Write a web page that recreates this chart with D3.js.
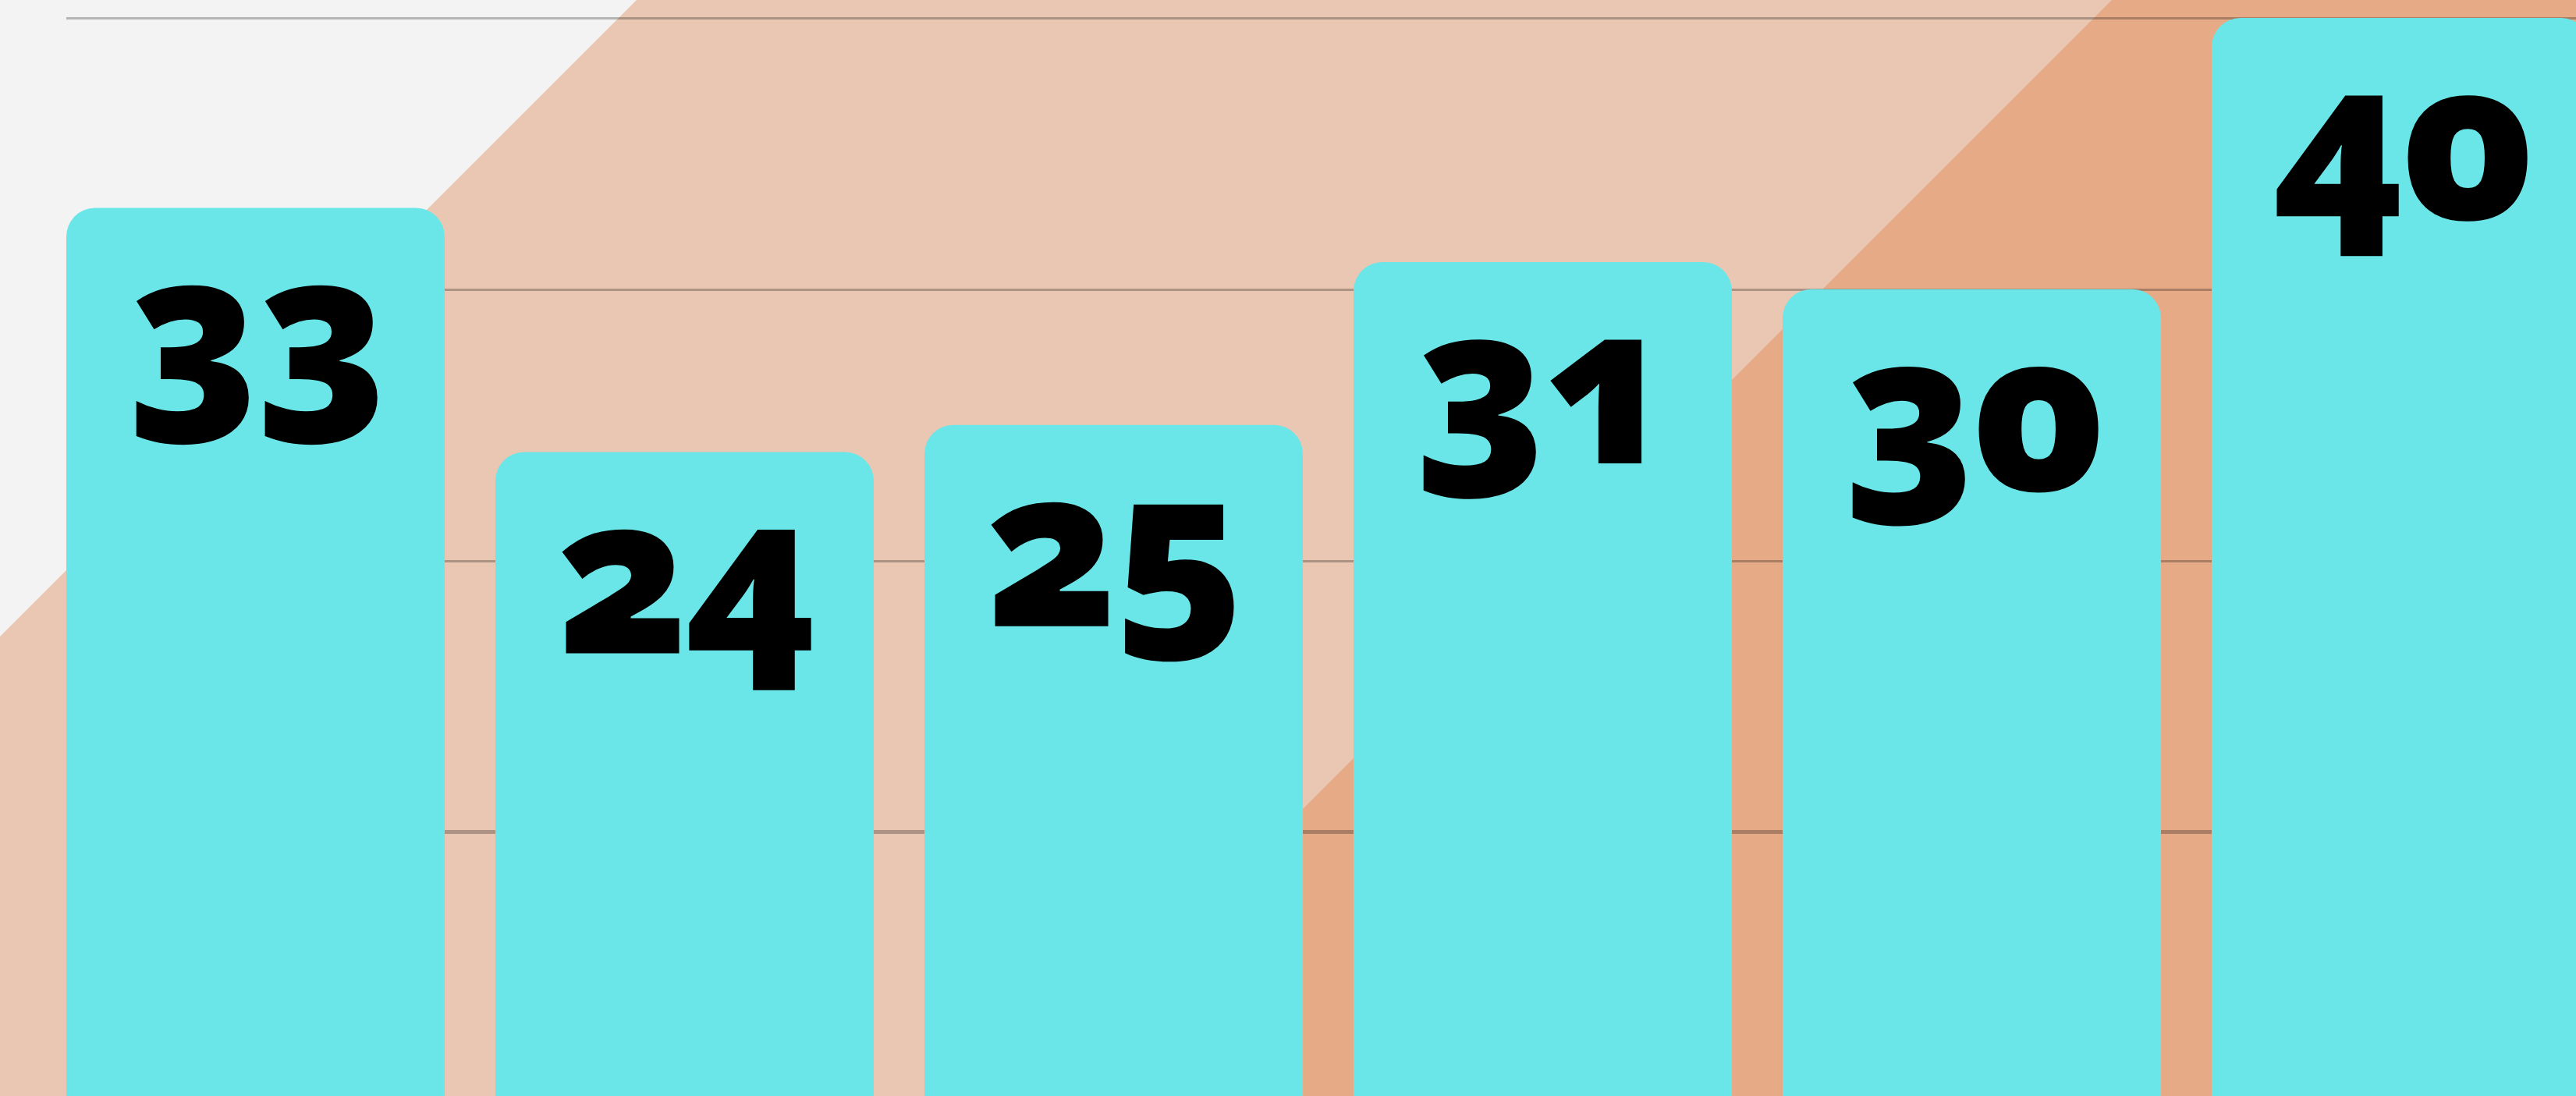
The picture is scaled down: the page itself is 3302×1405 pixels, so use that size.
<!DOCTYPE html>
<html>
<head>
<meta charset="utf-8">
<script src="https://cdn.jsdelivr.net/npm/d3@7"></script>
<style>
  html, body { margin: 0; padding: 0; overflow: hidden; background: #f3f3f3; }
  svg { display: block; }
  .value-label {
    font-family: "Noto Sans", "Open Sans", sans-serif;
    font-weight: 900;
    font-variant-numeric: oldstyle-nums;
    font-feature-settings: "onum" 1;
    letter-spacing: -6px;
  }
</style>
</head>
<body>
<svg id="chart"></svg>
<script>
// ---- data ----
const categories = ["c1", "c2", "c3", "c4", "c5", "c6"];
const values = [33, 24, 25, 31, 30, 40];
const gridTicks = [10, 20, 30, 40];

// ---- layout & style ----
const W = 3302, H = 1405;
const plotLeft = 85;
const step = 550, barGap = 65;
const yZeroPx = 1414, yTopPx = 23;      // pixel rows of 0 and 40
const cornerR = 37;
const labelSize = 282, labelDrop = 258;
const colors = {
  paper: "#f3f3f3",
  bandLight: "#eac7b3",
  bandDark: "#e6aa87",
  bar: "#6be6e8",
  grid: "rgba(0,0,0,0.26)",
  label: "#000000"
};
// diagonal background bands (x + y = const)
const bandEdge1 = 816, bandEdge2 = 2707;

const svg = d3.select("#chart").attr("width", W).attr("height", H);

// background: dark band, lighter band, then pale corner
svg.append("rect").attr("width", W).attr("height", H).attr("fill", colors.bandDark);
svg.append("polygon")
  .attr("points", [[0, 0], [bandEdge2, 0], [bandEdge2 - H, H], [0, H]].join(" "))
  .attr("fill", colors.bandLight);
svg.append("polygon")
  .attr("points", [[0, 0], [bandEdge1, 0], [0, bandEdge1]].join(" "))
  .attr("fill", colors.paper);

// scales
const x = d3.scaleBand()
  .domain(categories)
  .range([plotLeft, plotLeft + categories.length * step - barGap])
  .paddingInner(barGap / step)
  .paddingOuter(0);

const y = d3.scaleLinear().domain([0, 40]).range([yZeroPx, yTopPx]);

// horizontal gridlines
const grid = svg.append("g")
  .attr("transform", `translate(${plotLeft},0)`)
  .call(d3.axisLeft(y).tickValues(gridTicks).tickSize(-(W - plotLeft)).tickFormat(""));
grid.select(".domain").remove();
grid.selectAll(".tick line")
  .attr("stroke", colors.grid)
  .attr("stroke-width", d => d === 10 ? 5 : 3)
  .attr("shape-rendering", "crispEdges");

// bars with rounded top corners
function topRounded(x0, y0, w, h, r) {
  return `M${x0},${y0 + h}V${y0 + r}A${r},${r} 0 0 1 ${x0 + r},${y0}` +
         `H${x0 + w - r}A${r},${r} 0 0 1 ${x0 + w},${y0 + r}V${y0 + h}Z`;
}

const data = categories.map((c, i) => ({ cat: c, value: values[i] }));

svg.append("g").selectAll("path.bar")
  .data(data)
  .join("path")
  .attr("class", "bar")
  .attr("fill", colors.bar)
  .attr("d", d => topRounded(x(d.cat), y(d.value), x.bandwidth(), y(0) - y(d.value), cornerR));

// value labels inside the top of each bar
svg.append("g").selectAll("text")
  .data(data)
  .join("text")
  .attr("class", "value-label")
  .attr("x", d => x(d.cat) + x.bandwidth() / 2)
  .attr("y", d => y(d.value) + labelDrop)
  .attr("text-anchor", "middle")
  .attr("font-size", labelSize)
  .attr("fill", colors.label)
  .text(d => d.value);
</script>
</body>
</html>
